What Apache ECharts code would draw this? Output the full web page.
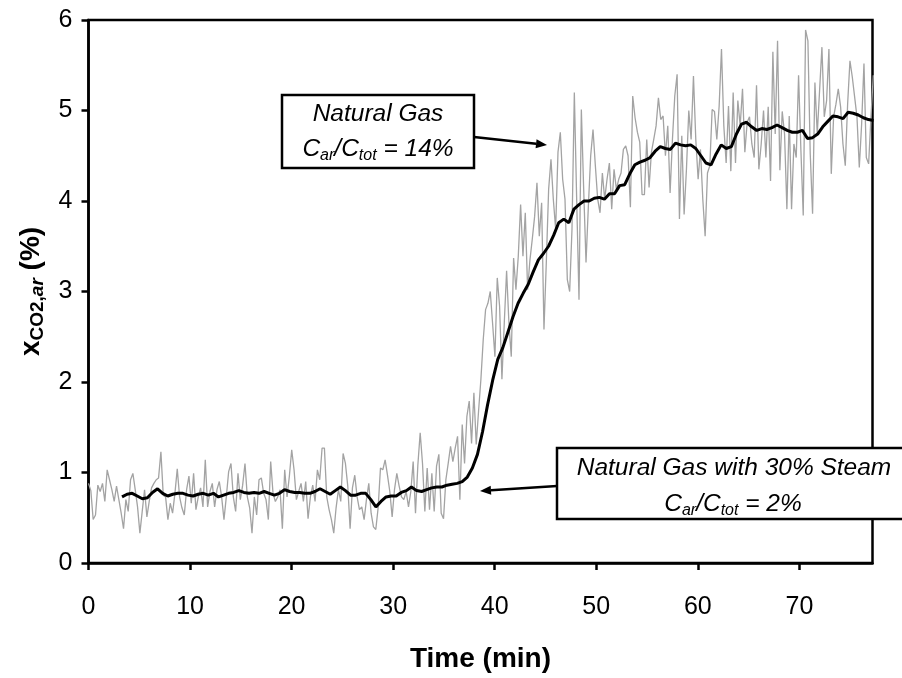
<!DOCTYPE html>
<html><head><meta charset="utf-8">
<script src="https://cdn.jsdelivr.net/npm/echarts@6/dist/echarts.min.js"></script>
<style>html,body{margin:0;padding:0;background:#fff}#c{width:902px;height:678px}</style>
</head><body><div id="c"></div>
<script>
// ---- data ----
const xTicks = [0, 10, 20, 30, 40, 50, 60, 70];
const yTicks = [0, 1, 2, 3, 4, 5, 6];
const xMax = 77.2;

// raw measurement (grey), sampled every rawStep minutes starting at 0
const rawStep = 0.23;
const rawValues = [
  // 0 - 13 min
  0.88,0.80,0.48,0.53,0.86,0.79,0.88,0.68,1.03,0.92,
  0.81,0.68,0.85,0.70,0.55,0.38,0.70,0.57,0.92,0.99,
  0.81,0.62,0.33,0.57,0.81,0.51,0.68,0.83,0.88,0.92,
  0.94,1.23,0.75,0.73,0.48,0.66,0.55,0.77,1.04,0.73,
  0.61,0.53,0.81,0.96,0.66,0.99,0.59,0.73,0.83,0.62,
  1.14,0.62,0.79,0.88,0.62,0.81,0.90,0.73,
  // 13 - 27 min
  0.48,0.73,1.01,1.10,0.73,0.57,0.99,0.70,0.86,1.10,
  0.73,0.61,0.33,0.73,0.53,0.92,0.94,0.77,0.70,0.48,
  1.12,0.77,0.68,0.73,0.81,0.38,1.03,0.73,0.96,1.25,
  1.03,0.70,0.79,0.88,0.68,0.90,0.49,0.73,0.86,0.68,
  1.03,0.92,1.27,1.27,0.73,0.59,0.48,0.33,0.61,0.81,
  0.68,1.21,1.10,0.85,0.38,0.83,0.97,0.73,0.59,
  // 27 - 38.7 min
  0.62,0.48,0.70,0.88,0.55,0.40,0.37,0.61,1.05,1.03,
  1.14,0.97,0.79,0.51,0.81,0.99,0.85,0.73,0.70,0.79,
  0.62,0.79,1.12,0.55,1.08,1.44,1.10,0.57,1.05,0.59,
  0.99,0.57,1.07,1.20,0.55,0.49,0.92,1.10,1.29,1.12,
  1.27,1.40,0.70,1.53,1.10,1.62,1.79,1.32,1.88,1.31,
  1.68,2.03,
  // 38.9 - 52 min
  2.47,2.80,2.87,3.00,2.65,2.28,3.15,2.84,2.03,2.65,
  3.23,2.65,2.28,3.37,3.02,3.39,3.96,3.39,3.87,3.02,
  3.35,3.58,3.83,4.20,3.61,3.98,2.58,3.32,4.13,4.46,
  4.02,3.69,4.54,4.76,4.24,4.02,3.13,3.00,3.69,5.20,
  4.02,2.91,5.01,4.13,3.32,3.94,4.50,4.79,4.39,4.02,
  3.87,4.31,4.02,4.24,4.42,3.91,4.35,4.13,
  // 52 - 65 min
  4.24,4.31,4.57,4.61,4.50,3.93,5.16,4.92,4.76,4.65,
  4.07,4.07,4.68,4.15,4.54,4.68,4.83,5.14,4.90,4.94,
  4.50,4.83,4.09,4.68,5.16,5.40,3.80,4.72,3.85,4.35,
  5.00,4.68,5.38,4.68,4.24,4.57,4.02,3.61,4.31,4.39,
  5.01,4.99,4.68,5.05,5.68,4.83,4.42,5.05,4.33,5.20,
  4.42,5.11,4.83,5.24,4.54,4.87,
  // 65 - 77.3 min
  4.93,4.63,4.48,5.28,4.35,4.63,5.00,4.48,5.04,4.22,
  5.65,4.74,5.77,4.34,4.99,4.74,3.91,4.94,3.91,4.63,
  4.48,5.39,4.56,3.84,5.89,5.77,4.52,3.86,5.31,4.74,
  5.22,5.70,4.93,5.11,5.68,4.30,4.93,5.07,5.24,5.04,
  4.63,4.39,5.07,5.55,5.37,5.15,4.93,4.37,4.85,5.52,
  4.48,4.41,4.93,5.39
];

// moving average (black), sampled every avgStep minutes starting at avgStart
const avgStart = 3.3;
const avgStep = 0.5;
const avgValues = [
  0.73,0.76,0.77,0.74,0.71,0.72,0.78,0.82,0.77,0.74,
  0.76,0.77,0.77,0.75,0.74,0.76,0.77,0.75,0.77,0.73,
  0.75,0.77,0.78,0.80,0.78,0.77,0.78,0.77,0.79,0.77,
  0.75,0.77,0.81,0.79,0.78,0.78,0.77,0.77,0.79,0.82,
  0.79,0.76,0.80,0.84,0.80,0.75,0.75,0.77,0.77,0.70,
  0.62,0.68,0.73,0.74,0.74,0.78,0.80,0.84,0.80,0.79,
  0.81,0.83,0.84,0.84,0.86,0.87,0.88,0.90,0.95,1.05,
  1.20,1.45,1.75,2.02,2.25,2.38,2.55,2.72,2.87,2.98,
  3.08,3.22,3.35,3.42,3.50,3.62,3.76,3.80,3.76,3.91,
  3.96,4.00,4.00,4.03,4.04,4.02,4.08,4.08,4.17,4.18,
  4.30,4.40,4.43,4.45,4.48,4.55,4.60,4.58,4.57,4.64,
  4.62,4.61,4.62,4.58,4.50,4.42,4.40,4.52,4.62,4.58,
  4.60,4.74,4.85,4.87,4.82,4.78,4.80,4.79,4.81,4.84,
  4.81,4.78,4.76,4.76,4.78,4.69,4.70,4.74,4.82,4.88,
  4.94,4.93,4.91,4.98,4.97,4.95,4.92,4.90,4.89
];

// ---- build ----
const rawData = rawValues.map((v, i) => [+(i * rawStep).toFixed(3), v]);
const avgData = avgValues.map((v, i) => [+(avgStart + i * avgStep).toFixed(2), v]);

const F = '"Liberation Sans", Arial, sans-serif';
const txt = {
  c: { fontSize: 24.5, fontStyle: 'italic', fontFamily: F, lineHeight: 30, fill: '#000' },
  s: { fontSize: 16, fontStyle: 'italic', fontFamily: F, lineHeight: 16, verticalAlign: 'bottom', fill: '#000' }
};
function label(x, y, text) {
  return { type: 'text', x: x, y: y, z: 110,
    style: { text: text, align: 'center', verticalAlign: 'middle', rich: txt,
      fontSize: 24.5, fontStyle: 'italic', fontFamily: F, fill: '#000' } };
}
function arrow(x1, y1, x2, y2) {
  const dx = x2 - x1, dy = y2 - y1, L = Math.hypot(dx, dy);
  const ux = dx / L, uy = dy / L, hl = 11, hw = 4.5;
  const bx = x2 - ux * hl, by = y2 - uy * hl;
  return [
    { type: 'line', z: 110, shape: { x1: x1, y1: y1, x2: bx, y2: by }, style: { stroke: '#000', lineWidth: 2.5 } },
    { type: 'polygon', z: 110, shape: { points: [[x2, y2], [bx - uy * hw, by + ux * hw], [bx + uy * hw, by - ux * hw]] }, style: { fill: '#000' } }
  ];
}

const chart = echarts.init(document.getElementById('c'), null, { renderer: 'canvas' });
chart.setOption({
  animation: false,
  backgroundColor: '#fff',
  grid: { left: 88.5, right: 29.5, top: 20, bottom: 114.7, show: true, borderColor: '#000', borderWidth: 2.5 },
  xAxis: {
    type: 'value', min: 0, max: xMax, interval: 10,
    axisLine: { show: true, onZero: false, lineStyle: { color: '#000', width: 2.5 } },
    axisTick: { show: true, length: 7, customValues: xTicks, lineStyle: { color: '#000', width: 2.5 } },
    axisLabel: { customValues: xTicks, color: '#000', fontSize: 25, fontFamily: F, margin: 32 },
    splitLine: { show: false },
    name: 'Time (min)', nameLocation: 'middle', nameGap: 82,
    nameTextStyle: { fontWeight: 'bold', fontSize: 28, color: '#000', fontFamily: F }
  },
  yAxis: {
    type: 'value', min: 0, max: 6, interval: 1,
    axisLine: { show: true, lineStyle: { color: '#000', width: 2.5 } },
    axisTick: { show: true, length: 7, customValues: yTicks, lineStyle: { color: '#000', width: 2.5 } },
    axisLabel: { customValues: yTicks, color: '#000', fontSize: 25, fontFamily: F, margin: 16 },
    splitLine: { show: false },
    name: '{x|x}{s|CO2,}{si|ar}{x| (%)}', nameLocation: 'middle', nameGap: 33,
    nameTextStyle: {
      color: '#000', fontFamily: F,
      rich: {
        x: { fontSize: 28, fontWeight: 'bold', fontFamily: F, lineHeight: 32, color: '#000' },
        s: { fontSize: 19, fontWeight: 'bold', fontFamily: F, lineHeight: 19, verticalAlign: 'bottom', color: '#000' },
        si: { fontSize: 19, fontWeight: 'bold', fontStyle: 'italic', fontFamily: F, lineHeight: 19, verticalAlign: 'bottom', color: '#000' }
      }
    }
  },
  series: [
    { type: 'line', data: rawData, showSymbol: false, symbol: 'none', lineStyle: { color: '#a3a3a3', width: 1.3 }, z: 2 },
    { type: 'line', data: avgData, showSymbol: false, symbol: 'none', lineStyle: { color: '#000', width: 3 }, z: 3 }
  ],
  graphic: [
    { type: 'rect', z: 100, shape: { x: 282, y: 95, width: 192, height: 73 }, style: { fill: '#fff', stroke: '#000', lineWidth: 2.5 } },
    label(378, 114, '{c|Natural Gas}'),
    label(378, 149, '{c|C}{s|ar}{c|/C}{s|tot}{c| = 14%}'),
    ...arrow(474, 137, 547, 145),
    { type: 'rect', z: 100, shape: { x: 557, y: 448, width: 360, height: 71 }, style: { fill: '#fff', stroke: '#000', lineWidth: 2.5 } },
    label(734, 468, '{c|Natural Gas with 30% Steam}'),
    label(733, 504, '{c|C}{s|ar}{c|/C}{s|tot}{c| = 2%}'),
    ...arrow(557, 486, 480, 491)
  ]
});
</script></body></html>
